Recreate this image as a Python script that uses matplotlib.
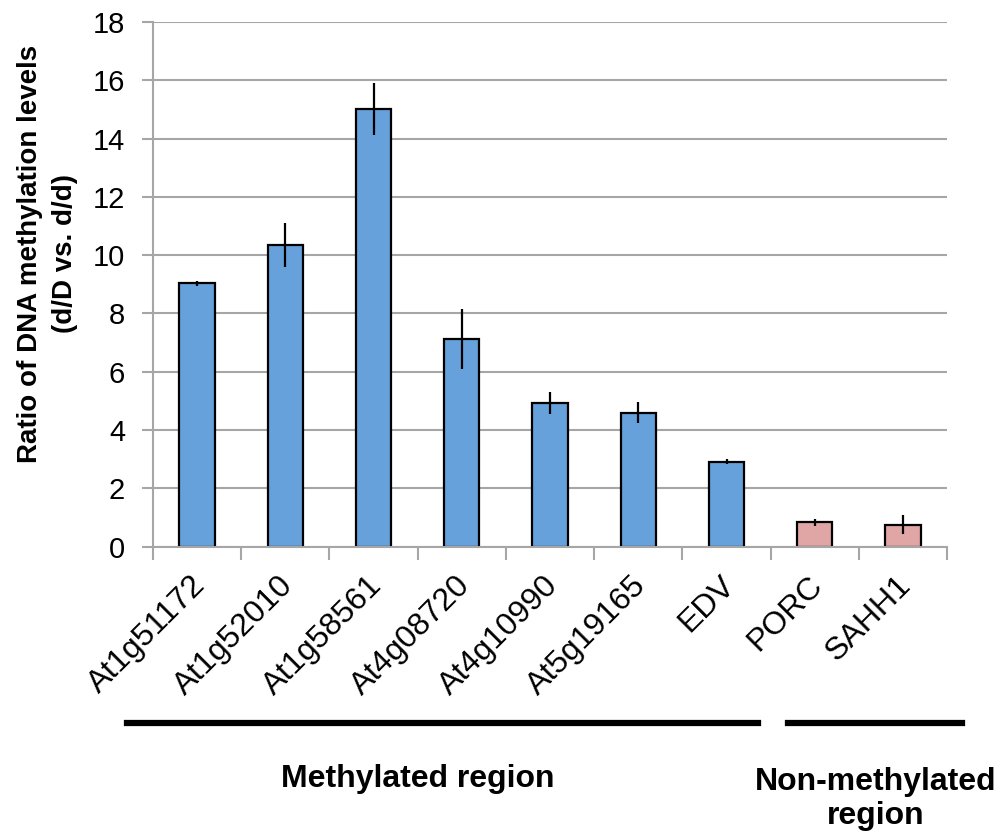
import numpy as np
import matplotlib
matplotlib.use('Agg')
import matplotlib.pyplot as plt
import matplotlib.transforms as mtransforms
from matplotlib.lines import Line2D

plt.rcParams['font.family'] = ['Liberation Sans', 'DejaVu Sans']

genes = ['At1g51172', 'At1g52010', 'At1g58561', 'At4g08720', 'At4g10990',
         'At5g19165', 'EDV', 'PORC', 'SAHH1']
ratio = [9.03, 10.35, 15.0, 7.13, 4.93, 4.6, 2.92, 0.83, 0.76]
err = [0.09, 0.76, 0.89, 1.02, 0.39, 0.36, 0.09, 0.11, 0.31]
methylated = [True] * 7 + [False] * 2

blue = '#66A1DC'
pink = '#E0A6A5'
grey = '#A6A6A6'

fig = plt.figure(figsize=(10.02, 8.35), dpi=100)
ax = fig.add_axes([0.1527, 0.3453, 0.7925, 0.6284])

x = np.arange(len(genes))
colors = [blue if m else pink for m in methylated]
ax.bar(x, ratio, width=0.4, color=colors, edgecolor='black', linewidth=1.6, zorder=3)
ax.errorbar(x, ratio, yerr=err, fmt='none', ecolor='black', elinewidth=1.6,
            capsize=0, zorder=4)

ax.set_xlim(-0.5, len(genes) - 0.5)
ax.set_ylim(0, 18)
ax.set_yticks(np.arange(0, 19, 2))
ax.yaxis.grid(True, color=grey, linewidth=1.5, zorder=0)
ax.set_axisbelow(True)

for s in ['top', 'right']:
    ax.spines[s].set_visible(False)
for s in ['left', 'bottom']:
    ax.spines[s].set_color(grey)
    ax.spines[s].set_linewidth(1.5)
    ax.spines[s].set_zorder(5)

ax.tick_params(axis='y', direction='out', length=8, width=1.5, color=grey,
               labelsize=21, pad=12)
ax.set_xticks(x)
ax.set_xticks(np.arange(-0.5, len(genes), 1), minor=True)
ax.tick_params(axis='x', which='major', length=0, pad=17)
ax.tick_params(axis='x', which='minor', direction='out', length=9, width=1.5,
               color=grey)
ax.set_xticklabels(genes, rotation=45, ha='right', rotation_mode='anchor',
                   fontsize=23)
shift = mtransforms.ScaledTranslation(-7 / 100, 0, fig.dpi_scale_trans)
for lab in ax.get_xticklabels():
    lab.set_transform(lab.get_transform() + shift)

ax.set_ylabel('Ratio of DNA methylation levels\n(d/D vs. d/d)', fontsize=20,
              fontweight='bold', linespacing=1.45)
ax.yaxis.set_label_coords(-0.095, 0.558)

# group bars under the tick labels
fig.add_artist(Line2D([126.7 / 1002, 758.3 / 1002], [0.1338, 0.1338],
                      color='black', linewidth=4.5))
fig.add_artist(Line2D([788.3 / 1002, 961.7 / 1002], [0.1338, 0.1338],
                      color='black', linewidth=4.5))
fig.text(417.5 / 1002, 1 - 779 / 835, 'Methylated region', ha='center',
         va='center', fontsize=23, fontweight='bold')
fig.text(876 / 1002, 1 - 799 / 835, 'Non-methylated\nregion', ha='center',
         va='center', fontsize=23, fontweight='bold', linespacing=1.2)

fig.savefig('out.png', dpi=100)
